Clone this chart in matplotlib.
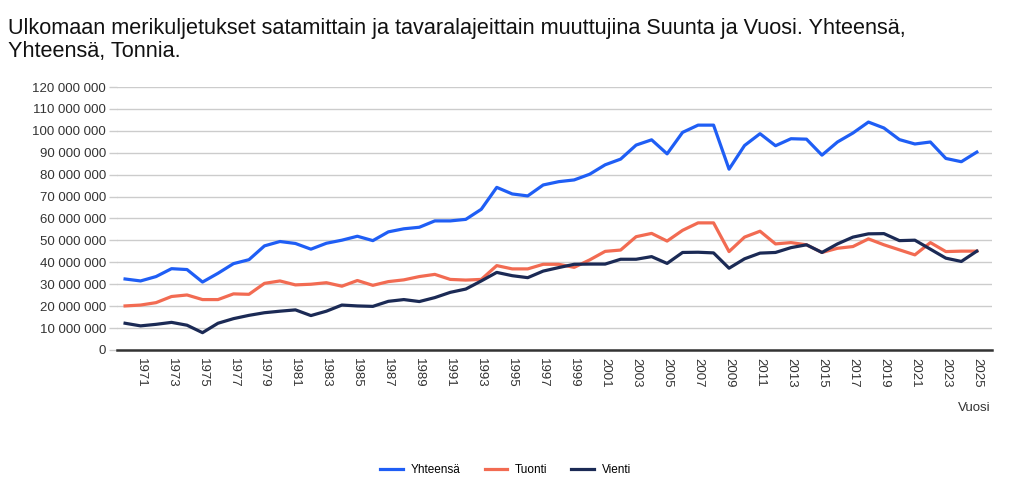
"""Ulkomaan merikuljetukset: Yhteensä, Tuonti ja Vienti vuosittain."""

import matplotlib
matplotlib.use("Agg")
import matplotlib.pyplot as plt
from matplotlib.ticker import FuncFormatter

plt.rcParams["font.family"] = ["Liberation Sans", "DejaVu Sans"]

years = list(range(1970, 2026))

# Millions of tonnes
yhteensa = [
    32.4, 31.5, 33.5, 37.1, 36.7, 31.0, 35.0, 39.4, 41.2, 47.5,
    49.5, 48.6, 46.0, 48.7, 50.1, 51.9, 49.9, 53.9, 55.3, 56.0,
    58.9, 58.9, 59.6, 64.2, 74.2, 71.2, 70.3, 75.3, 76.8, 77.6,
    80.2, 84.5, 87.1, 93.5, 95.9, 89.5, 99.3, 102.6, 102.6, 82.5,
    93.3, 98.7, 93.2, 96.4, 96.2, 88.9, 94.9, 99.0, 104.0, 101.3,
    96.0, 94.0, 94.9, 87.4, 85.9, 90.3,
]
tuonti = [
    20.1, 20.5, 21.6, 24.4, 25.1, 23.0, 23.0, 25.6, 25.4, 30.4,
    31.5, 29.7, 30.0, 30.7, 29.1, 31.7, 29.5, 31.2, 32.0, 33.5,
    34.5, 32.2, 31.9, 32.2, 38.5, 37.0, 37.0, 39.1, 39.1, 37.7,
    41.1, 45.0, 45.6, 51.7, 53.2, 49.7, 54.6, 58.0, 58.0, 44.9,
    51.5, 54.2, 48.4, 49.0, 48.0, 44.5, 46.4, 47.2, 50.7, 48.0,
    45.7, 43.4, 49.0, 44.9, 45.1, 45.1,
]
vienti = [
    12.2, 11.0, 11.7, 12.6, 11.3, 7.9, 12.2, 14.3, 15.8, 17.0,
    17.7, 18.3, 15.7, 17.7, 20.5, 20.1, 19.9, 22.2, 23.0, 22.1,
    23.9, 26.3, 27.8, 31.5, 35.4, 33.9, 33.0, 36.0, 37.6, 39.1,
    39.2, 39.2, 41.4, 41.4, 42.6, 39.5, 44.5, 44.6, 44.3, 37.3,
    41.6, 44.2, 44.5, 46.7, 48.0, 44.5, 48.4, 51.5, 53.0, 53.1,
    49.9, 50.1, 46.0, 41.9, 40.4, 45.1,
]

series = [
    ("Yhteensä", yhteensa, "#1f5ef5"),
    ("Tuonti", tuonti, "#f26b52"),
    ("Vienti", vienti, "#1b2a55"),
]

fig = plt.figure(figsize=(10.22, 4.82), dpi=100)
ax = fig.add_axes([0.1145, 0.2739, 0.856, 0.5456])

for name, values, color in series:
    ax.plot(years, [v * 1e6 for v in values], color=color, lw=2.3,
            label=name, solid_joinstyle="round")

ax.set_ylim(0, 120e6)
ax.set_xlim(1969.48, 2025.97)
ax.set_yticks(range(0, 120000001, 10000000))
ax.yaxis.set_major_formatter(
    FuncFormatter(lambda v, p: f"{int(v):,}".replace(",", " ")))
ax.set_xticks(range(1971, 2026, 2))
ax.set_xticklabels([str(y) for y in range(1971, 2026, 2)], rotation=270)

ax.grid(axis="y", color="#cccccc", lw=1)
ax.set_axisbelow(True)
for side in ["top", "right", "left"]:
    ax.spines[side].set_visible(False)
ax.spines["bottom"].set_color("#333333")
ax.spines["bottom"].set_linewidth(1.8)

ax.tick_params(axis="y", length=6, width=1, color="#cccccc", pad=2,
               labelsize=9.5, labelcolor="#333333")
ax.tick_params(axis="x", length=0, pad=6, labelsize=9.5, labelcolor="#333333")

fig.text(0.008, 0.962,
         "Ulkomaan merikuljetukset satamittain ja tavaralajeittain muuttujina "
         "Suunta ja Vuosi. Yhteensä,\nYhteensä, Tonnia.",
         ha="left", va="top", fontsize=15.6, linespacing=1.1, color="#111111")
fig.text(0.969, 0.153, "Vuosi", ha="right", va="center", fontsize=9.5,
         color="#333333")

fig.legend(loc="center", bbox_to_anchor=(0.495, 0.025), ncol=3, frameon=False,
           fontsize=8.5, handlelength=1.9, columnspacing=2.0,
           handletextpad=0.7)

fig.savefig("out.png", dpi=100)
